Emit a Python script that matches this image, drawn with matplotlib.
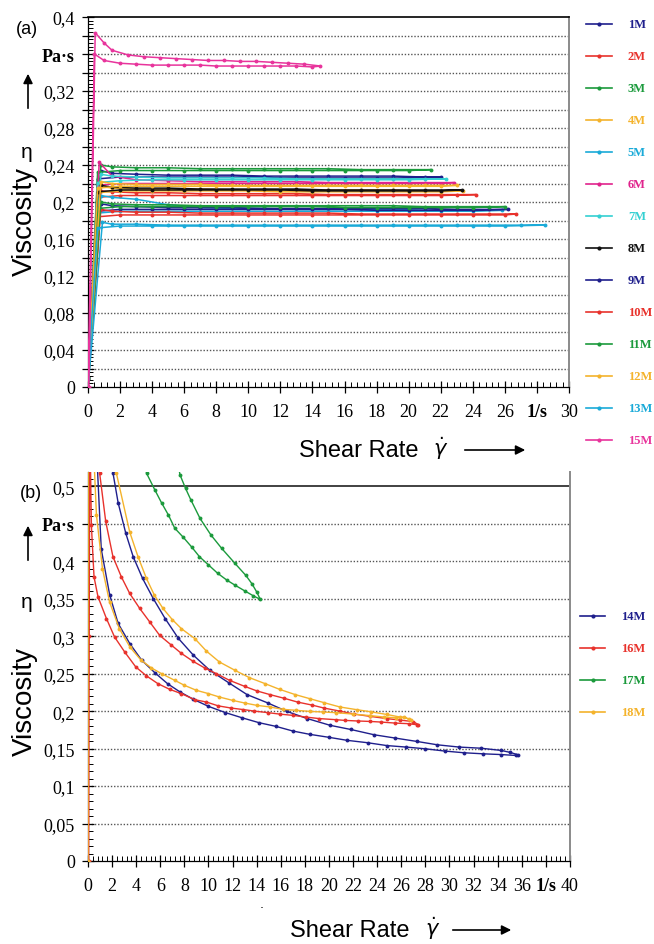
import matplotlib
matplotlib.use("Agg")
import matplotlib.pyplot as plt
import numpy as np
from matplotlib.lines import Line2D

W, H = 654, 945
SERIF = "Liberation Serif"
SANS = "Liberation Sans"

# ── colours ──────────────────────────────────────────────────────────────
NAVY = "#1f1f8c"
RED = "#e8322c"
GREEN = "#1b9a3c"
ORANGE = "#f4b32c"
CYAN = "#1aaad8"
MAGENTA = "#e0238c"
TURQ = "#34d0d2"
BLACK = "#111111"
PINK = "#e8349c"

# ── panel (a): flat hysteresis loops, up branch (UX/UY) and down branch (DX/DY)
UX_1M = [0, 0.8, 1.5, 3, 5, 7, 9, 11, 13, 15, 17, 19, 21, 22.0]
UY_1M = [0, 0.234, 0.231, 0.230, 0.229, 0.229, 0.229, 0.228, 0.228, 0.228, 0.228, 0.228, 0.227, 0.227]
DX_1M = [0, 0.6, 2, 4, 6, 8, 10, 12, 14, 16, 18, 20]
DY_1M = [0.01, 0.225, 0.227, 0.227, 0.227, 0.227, 0.227, 0.226, 0.226, 0.226, 0.226, 0.226]

UX_2M = [0, 0.8, 1.5, 3, 5, 7, 9, 11, 13, 15, 17, 19, 21, 23, 24.2]
UY_2M = [0, 0.212, 0.211, 0.210, 0.210, 0.209, 0.209, 0.209, 0.209, 0.208, 0.208, 0.208, 0.208, 0.208, 0.208]
DX_2M = [0, 0.6, 2, 4, 6, 8, 10, 12, 14, 16, 18, 20, 22]
DY_2M = [0.01, 0.205, 0.207, 0.207, 0.207, 0.207, 0.207, 0.207, 0.207, 0.207, 0.207, 0.207, 0.207]

UX_3M = [0, 0.8, 1.5, 3, 5, 7, 9, 11, 13, 15, 17, 19, 21.4]
UY_3M = [0, 0.240, 0.238, 0.237, 0.237, 0.236, 0.236, 0.236, 0.236, 0.236, 0.235, 0.235, 0.235]
DX_3M = [0, 0.6, 2, 4, 6, 8, 10, 12, 14, 16, 18, 20]
DY_3M = [0.01, 0.232, 0.234, 0.234, 0.234, 0.234, 0.234, 0.234, 0.234, 0.234, 0.234, 0.234]

UX_4M = [0, 0.8, 1.5, 3, 5, 7, 9, 11, 13, 15, 17, 19, 21, 23.4]
UY_4M = [0, 0.217, 0.215, 0.214, 0.214, 0.214, 0.213, 0.213, 0.213, 0.213, 0.213, 0.213, 0.212, 0.212]
DX_4M = [0, 0.6, 2, 4, 6, 8, 10, 12, 14, 16, 18, 20, 22]
DY_4M = [0.01, 0.210, 0.212, 0.212, 0.212, 0.212, 0.212, 0.211, 0.211, 0.211, 0.211, 0.211, 0.211]

UX_5M = [0, 0.8, 1.5, 3, 5, 7, 9, 11, 13, 15, 17, 19, 21, 23, 25.8]
UY_5M = [0, 0.207, 0.205, 0.203, 0.197, 0.194, 0.193, 0.193, 0.192, 0.192, 0.192, 0.192, 0.191, 0.191, 0.191]
DX_5M = [0, 0.6, 2, 4, 6, 8, 10, 12, 14, 16, 18, 20, 22, 24]
DY_5M = [0.01, 0.188, 0.190, 0.190, 0.190, 0.190, 0.190, 0.190, 0.190, 0.190, 0.190, 0.190, 0.190, 0.190]

UX_6M = [0, 0.7, 1.5, 3, 5, 7, 9, 11, 13, 15, 17, 19, 21, 22.8]
UY_6M = [0, 0.243, 0.228, 0.224, 0.223, 0.222, 0.222, 0.222, 0.222, 0.221, 0.221, 0.221, 0.221, 0.221]
DX_6M = [0, 0.6, 2, 4, 6, 8, 10, 12, 14, 16, 18, 20, 22]
DY_6M = [0.01, 0.218, 0.220, 0.220, 0.220, 0.220, 0.220, 0.220, 0.220, 0.220, 0.220, 0.220, 0.220]

UX_7M = [0, 0.8, 1.5, 3, 5, 7, 9, 11, 13, 15, 17, 19, 21, 22.3]
UY_7M = [0, 0.230, 0.228, 0.227, 0.226, 0.226, 0.226, 0.226, 0.225, 0.225, 0.225, 0.225, 0.225, 0.225]
DX_7M = [0, 0.6, 2, 4, 6, 8, 10, 12, 14, 16, 18, 20]
DY_7M = [0.01, 0.221, 0.223, 0.224, 0.224, 0.224, 0.224, 0.224, 0.224, 0.224, 0.224, 0.224]

UX_8M = [0, 0.8, 1.5, 3, 5, 7, 9, 11, 13, 15, 17, 19, 21, 23.3]
UY_8M = [0, 0.218, 0.216, 0.215, 0.215, 0.214, 0.214, 0.214, 0.214, 0.213, 0.213, 0.213, 0.213, 0.213]
DX_8M = [0, 0.6, 2, 4, 6, 8, 10, 12, 14, 16, 18, 20, 22]
DY_8M = [0.01, 0.211, 0.213, 0.213, 0.213, 0.213, 0.213, 0.213, 0.212, 0.212, 0.212, 0.212, 0.212]

UX_9M = [0, 0.8, 1.5, 3, 5, 7, 9, 11, 13, 15, 17, 19, 21, 23, 25, 26.2]
UY_9M = [0, 0.198, 0.196, 0.195, 0.194, 0.194, 0.194, 0.193, 0.193, 0.193, 0.193, 0.193, 0.193, 0.192, 0.192, 0.192]
DX_9M = [0, 0.6, 2, 4, 6, 8, 10, 12, 14, 16, 18, 20, 22, 24]
DY_9M = [0.01, 0.190, 0.192, 0.192, 0.192, 0.192, 0.192, 0.192, 0.192, 0.192, 0.191, 0.191, 0.191, 0.191]

UX_10M = [0, 0.8, 1.5, 3, 5, 7, 9, 11, 13, 15, 17, 19, 21, 23, 25, 26.7]
UY_10M = [0, 0.192, 0.190, 0.189, 0.189, 0.188, 0.188, 0.188, 0.188, 0.188, 0.187, 0.187, 0.187, 0.187, 0.187, 0.187]
DX_10M = [0, 0.6, 2, 4, 6, 8, 10, 12, 14, 16, 18, 20, 22, 24, 26]
DY_10M = [0.01, 0.184, 0.186, 0.186, 0.186, 0.186, 0.186, 0.186, 0.186, 0.186, 0.186, 0.186, 0.186, 0.186, 0.186]

UX_11M = [0, 0.8, 1.5, 3, 5, 7, 9, 11, 13, 15, 17, 19, 21, 23, 25, 26.0]
UY_11M = [0, 0.200, 0.198, 0.197, 0.197, 0.196, 0.196, 0.196, 0.196, 0.196, 0.196, 0.196, 0.195, 0.195, 0.195, 0.195]
DX_11M = [0, 0.6, 2, 4, 6, 8, 10, 12, 14, 16, 18, 20, 22, 24]
DY_11M = [0.01, 0.193, 0.195, 0.195, 0.195, 0.195, 0.195, 0.195, 0.195, 0.194, 0.194, 0.194, 0.194, 0.194]

UX_12M = [0, 0.8, 1.5, 3, 5, 7, 9, 11, 13, 15, 17, 19, 21, 23.0]
UY_12M = [0, 0.222, 0.220, 0.219, 0.219, 0.219, 0.218, 0.218, 0.218, 0.218, 0.218, 0.218, 0.218, 0.218]
DX_12M = [0, 0.6, 2, 4, 6, 8, 10, 12, 14, 16, 18, 20, 22]
DY_12M = [0.01, 0.215, 0.217, 0.217, 0.217, 0.217, 0.217, 0.217, 0.217, 0.217, 0.217, 0.217, 0.217]

UX_13M = [0, 0.9, 1.5, 3, 5, 7, 9, 11, 13, 15, 17, 19, 21, 23, 25, 27, 28.5]
UY_13M = [0, 0.178, 0.176, 0.176, 0.175, 0.175, 0.175, 0.175, 0.175, 0.175, 0.175, 0.175, 0.175, 0.175, 0.175, 0.175, 0.175]
DX_13M = [0, 0.6, 2, 4, 6, 8, 10, 12, 14, 16, 18, 20, 22, 24, 26]
DY_13M = [0.01, 0.172, 0.174, 0.174, 0.174, 0.174, 0.174, 0.174, 0.174, 0.174, 0.174, 0.174, 0.174, 0.174, 0.174]

UX_15M = [0.05, 0.45, 1, 1.5, 2.5, 3.5, 4.5, 5.5, 6.5, 7.5, 8.5, 9.5, 10.5, 11.5, 12.5, 13.5, 14.5]
UY_15M = [0, 0.383, 0.372, 0.364, 0.359, 0.357, 0.356, 0.355, 0.354, 0.353, 0.353, 0.352, 0.352, 0.351, 0.350, 0.349, 0.347]
DX_15M = [0, 0.4, 1, 2, 3, 4, 5, 6, 7, 8, 9, 10, 11, 12, 13, 14]
DY_15M = [0, 0.360, 0.353, 0.350, 0.349, 0.348, 0.348, 0.348, 0.348, 0.347, 0.347, 0.347, 0.347, 0.347, 0.347, 0.346]

A_LABELS = ["1M", "2M", "3M", "4M", "5M", "6M", "7M", "8M", "9M", "10M", "11M", "12M", "13M", "15M"]
A_COLORS = [NAVY, RED, GREEN, ORANGE, CYAN, MAGENTA, TURQ, BLACK, NAVY, RED, GREEN, ORANGE, CYAN, PINK]
A_DATA = [
    (UX_1M, UY_1M, DX_1M, DY_1M), (UX_2M, UY_2M, DX_2M, DY_2M),
    (UX_3M, UY_3M, DX_3M, DY_3M), (UX_4M, UY_4M, DX_4M, DY_4M),
    (UX_5M, UY_5M, DX_5M, DY_5M), (UX_6M, UY_6M, DX_6M, DY_6M),
    (UX_7M, UY_7M, DX_7M, DY_7M), (UX_8M, UY_8M, DX_8M, DY_8M),
    (UX_9M, UY_9M, DX_9M, DY_9M), (UX_10M, UY_10M, DX_10M, DY_10M),
    (UX_11M, UY_11M, DX_11M, DY_11M), (UX_12M, UY_12M, DX_12M, DY_12M),
    (UX_13M, UY_13M, DX_13M, DY_13M), (UX_15M, UY_15M, DX_15M, DY_15M),
]

# ── panel (b): shear-thinning loops, outer branch (O) and inner branch (I)
OX_14M = [1.9, 2.08, 2.5, 3.14, 3.75, 4.53, 5.42, 6.4, 7.5, 8.75, 10.1, 11.7, 13.2, 14.9, 16.5, 18.2,
          20.1, 21.8, 23.75, 25.5, 27.3, 29.0, 30.8, 32.6, 34.3, 35.0, 35.7]
OY_14M = [0.535, 0.517, 0.478, 0.437, 0.406, 0.377, 0.350, 0.3235, 0.297, 0.2745, 0.2545, 0.2376, 0.222,
          0.211, 0.1996, 0.190, 0.181, 0.1755, 0.1684, 0.164, 0.1595, 0.155, 0.152, 0.1505, 0.1475, 0.145, 0.1417]
IX_14M = [0.75, 1.1, 1.8, 2.5, 3.47, 4.45, 5.56, 6.6, 7.64, 8.75, 10.0, 11.4, 12.8, 14.2, 15.6, 17.0,
          18.4, 20.0, 21.5, 23.2, 24.8, 26.4, 28.0, 29.6, 31.2, 32.8, 34.3, 35.5]
IY_14M = [0.535, 0.416, 0.355, 0.317, 0.290, 0.268, 0.251, 0.2366, 0.2255, 0.2157, 0.2063, 0.198, 0.191,
          0.1845, 0.1796, 0.1734, 0.169, 0.165, 0.161, 0.1578, 0.154, 0.152, 0.1497, 0.1467, 0.1444, 0.143,
          0.142, 0.1408]

RX_16M = [0.05, 0.1, 0.15]
RY_16M = [0, 0.3, 0.6]
OX_16M = [0.9, 0.97, 1.47, 2.07, 2.77, 3.46, 4.29, 5.12, 5.95, 6.92, 7.75, 8.71, 9.68, 10.65, 11.75, 13.0,
          14.0, 15.1, 16.3, 17.4, 18.6, 19.6, 20.9, 22.1, 23.4, 24.8, 25.9, 27.0, 27.4]
OY_16M = [0.535, 0.517, 0.453, 0.406, 0.379, 0.357, 0.337, 0.319, 0.301, 0.288, 0.277, 0.2665, 0.2576,
          0.250, 0.241, 0.233, 0.227, 0.222, 0.217, 0.212, 0.208, 0.204, 0.200, 0.196, 0.193, 0.190, 0.188,
          0.186, 0.182]
IX_16M = [0.2, 0.28, 0.5, 0.83, 1.53, 2.2, 3.04, 3.96, 4.85, 5.8, 6.78, 7.75, 8.86, 9.83, 10.8, 11.9,
          12.9, 13.8, 14.9, 15.9, 17.0, 18.1, 19.2, 20.6, 21.3, 22.4, 23.4, 24.3, 25.5, 26.6, 27.3]
IY_16M = [0.535, 0.448, 0.379, 0.3525, 0.3235, 0.299, 0.279, 0.259, 0.247, 0.2366, 0.229, 0.2233, 0.2152,
          0.2121, 0.207, 0.204, 0.202, 0.200, 0.198, 0.196, 0.1943, 0.192, 0.190, 0.1885, 0.1876, 0.1868,
          0.1862, 0.1854, 0.184, 0.1832, 0.1818]

OX_17M = [4.6, 4.87, 5.55, 6.1, 6.67, 7.2, 7.9, 8.6, 9.25, 10.0, 10.75, 11.5, 12.2, 13.05, 13.7, 14.3]
OY_17M = [0.535, 0.517, 0.495, 0.478, 0.4617, 0.444, 0.432, 0.419, 0.406, 0.395, 0.384, 0.375, 0.368,
          0.360, 0.354, 0.349]
IX_17M = [7.4, 7.64, 8.1, 8.53, 9.3, 10.2, 11.1, 12.2, 13.1, 13.6, 14.0]
IY_17M = [0.535, 0.515, 0.497, 0.482, 0.457, 0.435, 0.417, 0.397, 0.381, 0.370, 0.359]

RX_18M = [0.0, 0.02]
RY_18M = [0, 0.6]
OX_18M = [2.2, 2.36, 3.46, 4.15, 4.85, 5.5, 6.22, 7.0, 7.75, 8.86, 9.83, 10.9, 12.2, 13.4, 14.7, 15.9,
          17.2, 18.4, 19.6, 20.9, 22.3, 23.5, 24.8, 25.9, 26.6]
OY_18M = [0.535, 0.517, 0.439, 0.406, 0.377, 0.355, 0.337, 0.322, 0.310, 0.2968, 0.280, 0.2656, 0.2544,
          0.2446, 0.2366, 0.229, 0.222, 0.2166, 0.2112, 0.2055, 0.2019, 0.199, 0.1955, 0.192, 0.190]
IX_18M = [0.5, 0.7, 1.2, 1.8, 2.6, 3.5, 4.4, 5.26, 6.1, 7.2, 8.0, 9.0, 10.0, 10.9, 12.0, 13.0, 14.0,
          15.1, 16.2, 17.3, 18.4, 19.5, 20.6, 22.0, 23.4, 24.6, 25.6, 26.2, 26.8]
IY_18M = [0.535, 0.462, 0.39, 0.345, 0.31, 0.285, 0.268, 0.2576, 0.250, 0.241, 0.2344, 0.2277, 0.2233,
          0.2188, 0.2143, 0.2108, 0.2077, 0.2055, 0.2023, 0.201, 0.1996, 0.1988, 0.1979, 0.196, 0.194,
          0.192, 0.191, 0.192, 0.188]

B_LABELS = ["14M", "16M", "17M", "18M"]
B_COLORS = [NAVY, RED, GREEN, ORANGE]
B_DATA = [
    ([], [], OX_14M, OY_14M, IX_14M, IY_14M),
    (RX_16M, RY_16M, OX_16M, OY_16M, IX_16M, IY_16M),
    ([], [], OX_17M, OY_17M, IX_17M, IY_17M),
    (RX_18M, RY_18M, OX_18M, OY_18M, IX_18M, IY_18M),
]


def fx(px):
    return px / W


def fy(py):
    return 1 - py / H


def comma(v):
    return f"{v:g}".replace(".", ",")


def style_axes(ax, xmax, xunit_at, ylim, ystep, ylabel_step, pa_at, grid_vals):
    ax.set_xlim(0, xmax)
    ax.set_ylim(*ylim)

    xt = np.arange(0, xmax + 0.1, 2)
    xl = [("1/s" if abs(v - xunit_at) < 1e-6 else f"{v:g}") for v in xt]
    ax.set_xticks(xt)
    for t in ax.set_xticklabels(xl):
        t.set_fontfamily(SERIF)
        t.set_fontsize(13)
        if t.get_text() == "1/s":
            t.set_fontweight("bold")
    ax.set_xticks(np.arange(0, xmax + 0.01, 0.4), minor=True)

    yt = np.round(np.arange(0, ylim[1] + 1e-9, ystep), 3)
    yl = []
    for v in yt:
        if abs(v - pa_at) < 1e-6:
            yl.append("Pa·s")
        elif abs(v / ylabel_step - round(v / ylabel_step)) < 1e-6:
            yl.append(comma(v))
        else:
            yl.append("")
    ax.set_yticks(yt)
    for t in ax.set_yticklabels(yl):
        t.set_fontfamily(SERIF)
        t.set_fontsize(13)
        if t.get_text() == "Pa·s":
            t.set_fontweight("bold")
    ax.set_yticks(np.arange(0, ylim[1], ystep / 5), minor=True)

    ax.tick_params(which="major", direction="inout", length=9, width=0.9, pad=5, colors="black")
    ax.tick_params(which="minor", direction="in", length=3.5, width=0.7)
    ax.tick_params(axis="x", which="major", pad=7)

    for v in grid_vals:
        ax.axhline(v, color="#555555", lw=1.0, ls=(0, (1, 1.3)), zorder=1)

    ax.spines["right"].set_color("#8a8a8a")
    ax.spines["right"].set_linewidth(1.4)
    for s in ("left", "bottom"):
        ax.spines[s].set_linewidth(0.9)


fig = plt.figure(figsize=(W / 100, H / 100), dpi=100)

# ── panel (a) ───────────────────────────────────────────────────────────
ax_a = fig.add_axes([fx(88), fy(388), (569 - 88) / W, (388 - 18) / H])
style_axes(ax_a, 30, 28, (0, 0.4), 0.02, 0.04, 0.36, np.round(np.arange(0.02, 0.39, 0.02), 2))
ax_a.spines["top"].set_linewidth(1.2)

for (ux, uy, dx, dy), col in zip(A_DATA, A_COLORS):
    xs = list(ux) + list(dx)[::-1]
    ys = list(uy) + list(dy)[::-1]
    ax_a.plot(xs, ys, color=col, lw=1.1, marker="o", ms=2.8, mew=0, zorder=3)

# ── panel (b) ───────────────────────────────────────────────────────────
ax_b = fig.add_axes([fx(88), fy(862), (570 - 88) / W, (862 - 473) / H])
style_axes(ax_b, 40, 38, (0, 0.519), 0.05, 0.05, 0.45, np.round(np.arange(0.05, 0.46, 0.05), 2))
ax_b.axhline(0.5, color="#333333", lw=1.3, zorder=1)
ax_b.spines["top"].set_visible(False)

for (rx, ry, ox, oy, ix, iy), col in zip(B_DATA, B_COLORS):
    xs = list(rx) + list(ox) + list(ix)[::-1]
    ys = list(ry) + list(oy) + list(iy)[::-1]
    ax_b.plot(xs, ys, color=col, lw=1.0, marker="o", ms=2.8, mew=0, zorder=3)


# ── legends ─────────────────────────────────────────────────────────────
def legend_entry(x0, x1, xt, y, col, label):
    fig.add_artist(Line2D([fx(x0), fx(x1)], [fy(y), fy(y)], transform=fig.transFigure,
                          color=col, lw=1.2))
    fig.add_artist(Line2D([fx((x0 + x1) / 2)], [fy(y)], transform=fig.transFigure,
                          color=col, marker="o", ms=3, mew=0))
    fig.text(fx(xt), fy(y), label, color=col, fontfamily=SERIF, fontweight="bold",
             fontsize=9, va="center", ha="left")


for i, (lab, col) in enumerate(zip(A_LABELS, A_COLORS)):
    legend_entry(586, 612, 628, 25 + i * 32.0, col, lab)

for i, (lab, col) in enumerate(zip(B_LABELS, B_COLORS)):
    legend_entry(580, 605, 621, 617 + i * 32.0, col, lab)

# ── axis titles and decorations ─────────────────────────────────────────
arrow = dict(arrowstyle="-|>", color="black", lw=1.2, mutation_scale=14)

fig.text(fx(27), fy(30), "(a)", fontfamily=SANS, fontsize=13, ha="center", va="center")
fig.text(fx(31), fy(494), "(b)", fontfamily=SANS, fontsize=13, ha="center", va="center")

for top, eta_y, visc_y in ((72, 153, 222), (524, 602, 702)):
    ax_a.annotate("", xy=(fx(28), fy(top)), xytext=(fx(28), fy(top + 40)),
                  xycoords="figure fraction", textcoords="figure fraction", arrowprops=arrow)
    fig.text(fx(27), fy(eta_y), "η", fontfamily=SANS, fontsize=15, ha="center", va="center")
    fig.text(fx(25), fy(visc_y), "Viscosity", fontfamily=SANS, fontsize=20, rotation=90,
             ha="center", va="center")

for cy, text_cx, gam_x, a0, a1 in ((451, 359, 441, 462, 528), (931, 350, 433, 450, 514)):
    fig.text(fx(text_cx), fy(cy), "Shear Rate", fontfamily=SANS, fontsize=17, ha="center", va="center")
    fig.text(fx(gam_x), fy(cy - 2), r"$\dot{\gamma}$", fontsize=15, ha="center", va="center")
    ax_a.annotate("", xy=(fx(a1), fy(cy)), xytext=(fx(a0), fy(cy)),
                  xycoords="figure fraction", textcoords="figure fraction", arrowprops=arrow)

fig.text(fx(262), fy(905), ".", fontsize=9, ha="center", va="center")

fig.savefig("out.png", dpi=100)
